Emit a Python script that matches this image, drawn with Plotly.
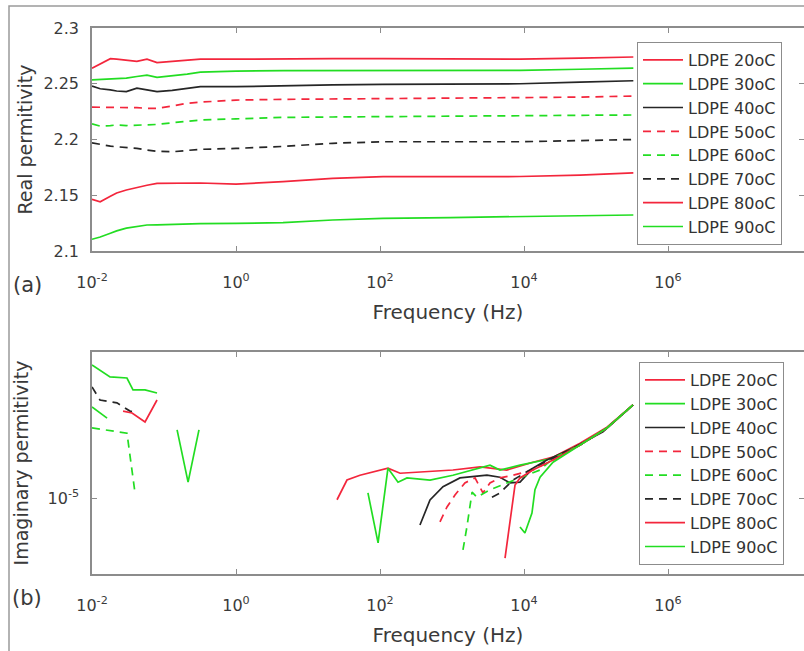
import plotly.graph_objects as go

# ---------------- data ----------------
labels = ["LDPE 20oC", "LDPE 30oC", "LDPE 40oC", "LDPE 50oC",
          "LDPE 60oC", "LDPE 70oC", "LDPE 80oC", "LDPE 90oC"]

# (a) real permittivity
freq_re = [0.01, 0.013, 0.018, 0.022, 0.03, 0.042, 0.058, 0.08, 0.13, 0.21,
           0.32, 1.0, 4.5, 22, 110, 940, 8800, 60000, 330000]
re_20 = [2.264, 2.268, 2.2725, 2.272, 2.271, 2.270, 2.272, 2.269, 2.270, 2.271,
         2.272, 2.272, 2.2725, 2.2725, 2.2725, 2.272, 2.272, 2.273, 2.274]
re_30 = [2.2534, 2.2537, 2.254, 2.2545, 2.255, 2.2565, 2.2578, 2.2558, 2.257, 2.2587,
         2.2605, 2.2614, 2.2617, 2.2617, 2.2617, 2.2617, 2.262, 2.263, 2.264]
re_40 = [2.248, 2.2455, 2.2445, 2.2435, 2.243, 2.246, 2.2445, 2.243, 2.244, 2.2455,
         2.2474, 2.2474, 2.2485, 2.249, 2.2495, 2.250, 2.250, 2.2515, 2.2527]
re_50 = [2.229, 2.229, 2.2285, 2.229, 2.2285, 2.2285, 2.228, 2.228, 2.230, 2.2325,
         2.2335, 2.2354, 2.236, 2.2363, 2.2365, 2.2368, 2.237, 2.238, 2.239]
re_60 = [2.214, 2.212, 2.2125, 2.213, 2.2125, 2.213, 2.213, 2.2135, 2.215, 2.2165,
         2.2175, 2.2185, 2.2198, 2.2202, 2.2205, 2.2205, 2.221, 2.2215, 2.222]
re_70 = [2.197, 2.1955, 2.194, 2.1935, 2.193, 2.192, 2.1905, 2.1895, 2.189, 2.1905,
         2.1912, 2.192, 2.1938, 2.1966, 2.198, 2.198, 2.198, 2.199, 2.200]
re_80 = [2.1464, 2.1442, 2.149, 2.152, 2.1547, 2.157, 2.159, 2.1607, 2.161, 2.1613,
         2.161, 2.160, 2.1622, 2.1652, 2.1667, 2.1667, 2.1668, 2.168, 2.170]
re_90 = [2.1105, 2.1125, 2.1159, 2.118, 2.1205, 2.122, 2.1233, 2.1235, 2.124, 2.1242,
         2.1245, 2.1248, 2.1254, 2.1278, 2.1293, 2.130, 2.131, 2.1315, 2.1323]

# (b) imaginary permittivity (None = gap, value not shown on log axis)
f_im_20 = [25.3, 34.8, 52.7, 129, 190, 359, 1030, 2460, 5760, 13300, 25300, 60000, 142000, 327000]
im_20 = [9.8e-6, 1.23e-5, 1.30e-5, 1.41e-5, 1.33e-5, 1.35e-5, 1.38e-5, 1.43e-5, 1.38e-5,
         1.51e-5, 1.60e-5, 1.88e-5, 2.26e-5, 2.92e-5]
f_im_30 = [0.01, 0.0162, None, 0.152, 0.216, 0.306, None, 68, 94, 129, 178, 237, 495, 1030,
           3370, 4640, 8800, 25300, 60000, 142000, 327000]
im_30 = [2.85e-5, 2.51e-5, None, 2.19e-5, 1.20e-5, 2.19e-5, None, 1.06e-5, 5.96e-6, 1.41e-5,
         1.20e-5, 1.26e-5, 1.23e-5, 1.30e-5, 1.46e-5, 1.38e-5, 1.46e-5, 1.58e-5, 1.84e-5,
         2.24e-5, 2.92e-5]
f_im_40 = [359, 495, 750, 1290, 3060, 4640, 6400, 8800, 13300, 20800, 48000, 125000, 327000]
im_40 = [7.33e-6, 9.77e-6, 1.14e-5, 1.26e-5, 1.30e-5, 1.27e-5, 1.19e-5, 1.20e-5, 1.41e-5,
         1.55e-5, 1.78e-5, 2.14e-5, 2.92e-5]
f_im_50 = [681, 852, 1100, 1510, 2090, 2690, 3370, 4640, 7030, 13300, 25300, 60000, 142000, 327000]
im_50 = [7.59e-6, 9.02e-6, 1.035e-5, 1.19e-5, 1.26e-5, 1.06e-5, 1.19e-5, 1.26e-5, 1.30e-5,
         1.38e-5, 1.55e-5, 1.84e-5, 2.24e-5, 2.92e-5]
f_im_60 = [0.01, 0.0151, 0.0306, 0.0396, None, 1420, 1610, 1900, 2220, 3370, 8800, 16700,
           25300, 60000, 142000, 327000]
im_60 = [2.24e-5, 2.19e-5, 2.11e-5, 1.06e-5, None, 5.50e-6, 7.16e-6, 1.07e-5, 1.01e-5,
         1.10e-5, 1.26e-5, 1.38e-5, 1.58e-5, 1.84e-5, 2.24e-5, 2.92e-5]
f_im_70 = [0.01, 0.0129, 0.0222, 0.0337, 0.0396, None, 3590, 4640, 7030, 13300, 25300,
           60000, 142000, 327000]
im_70 = [3.59e-5, 3.09e-5, 2.99e-5, 2.72e-5, 2.69e-5, None, 1.01e-5, 1.06e-5, 1.23e-5,
         1.41e-5, 1.58e-5, 1.84e-5, 2.24e-5, 2.92e-5]
f_im_80 = [0.027, 0.036, 0.0545, 0.08, None, 5450, 7500, 8800, 13300, 25300, 60000, 142000, 327000]
im_80 = [2.72e-5, 2.66e-5, 2.40e-5, 3.09e-5, None, 5.01e-6, 1.16e-5, 1.26e-5, 1.38e-5,
         1.55e-5, 1.84e-5, 2.24e-5, 2.92e-5]
f_im_90 = [0.01, 0.0178, 0.0306, 0.0371, 0.0545, 0.08, None, 8800, 10300, 12900, 14200,
           16700, 25300, 60000, 142000, 327000]
im_90 = [4.62e-5, 4.03e-5, 3.98e-5, 3.47e-5, 3.47e-5, 3.35e-5, None, 7.16e-6, 6.68e-6,
         8.41e-6, 1.10e-5, 1.27e-5, 1.51e-5, 1.84e-5, 2.24e-5, 2.92e-5]

x_tickvals = [1e-2, 1e0, 1e2, 1e4, 1e6, 1e8]
x_ticktext = ["10<sup>-2</sup>", "10<sup>0</sup>", "10<sup>2</sup>", "10<sup>4</sup>",
              "10<sup>6</sup>", "10<sup>8</sup>"]
y1_tickvals = [2.1, 2.15, 2.2, 2.25, 2.3]
y1_ticktext = ["2.1", "2.15", "2.2", "2.25", "2.3"]
y2_tickvals = [1e-5]
y2_ticktext = ["10<sup>-5</sup>"]

# ---------------- styles ----------------
RED, GREEN, BLACK = "#f3263c", "#22dd22", "#262626"
colors = [RED, GREEN, BLACK, RED, GREEN, BLACK, RED, GREEN]
dashes = ["solid", "solid", "solid", "8px,6px", "8px,6px", "8px,6px", "solid", "solid"]
FONT = "DejaVu Sans, Verdana, sans-serif"
TXT = "#3a3a3a"

re_series = [re_20, re_30, re_40, re_50, re_60, re_70, re_80, re_90]
im_f = [f_im_20, f_im_30, f_im_40, f_im_50, f_im_60, f_im_70, f_im_80, f_im_90]
im_v = [im_20, im_30, im_40, im_50, im_60, im_70, im_80, im_90]

fig = go.Figure()
for i, lab in enumerate(labels):
    fig.add_trace(go.Scatter(
        x=freq_re, y=re_series[i], mode="lines", name=lab,
        line=dict(color=colors[i], width=1.7, dash=dashes[i]),
        xaxis="x", yaxis="y", legend="legend"))
for i, lab in enumerate(labels):
    fig.add_trace(go.Scatter(
        x=im_f[i], y=im_v[i], mode="lines", name=lab,
        line=dict(color=colors[i], width=1.7, dash=dashes[i]),
        connectgaps=False,
        xaxis="x2", yaxis="y2", legend="legend2"))

W, H = 804, 651
L, R, T, B = 92, 0, 28, 77
pw, ph = W - L - R, H - T - B
def px(xp): return (xp - L) / pw
def py(yp): return (H - B - yp) / ph

xr = [-2, -2 + pw / 72.0]
axis_common = dict(showline=True, mirror="ticks", linecolor="#8c8c8c", linewidth=1.5,
                   ticks="inside", ticklen=5, tickcolor="#8c8c8c", showgrid=False,
                   zeroline=False, automargin=False,
                   tickfont=dict(family=FONT, size=16, color=TXT))
xtitle = dict(text="Frequency (Hz)", font=dict(family=FONT, size=20, color=TXT), standoff=14)

leg_common = dict(xanchor="left", yanchor="top", bgcolor="white",
                  bordercolor="#8c8c8c", borderwidth=1,
                  font=dict(family=FONT, size=16, color="#333333"),
                  itemwidth=40, entrywidth=120)

fig.update_layout(
    width=W, height=H, autosize=False,
    margin=dict(l=L, r=R, t=T, b=B, pad=0, autoexpand=False),
    paper_bgcolor="white", plot_bgcolor="white",
    font=dict(family=FONT, color=TXT),
    xaxis=dict(type="log", range=xr, domain=[0, 1], anchor="y",
               tickvals=x_tickvals, ticktext=x_ticktext, ticklabelstandoff=16,
               title=xtitle, **axis_common),
    yaxis=dict(range=[2.1, 2.3], domain=[py(251), 1], anchor="x",
               tickvals=y1_tickvals, ticktext=y1_ticktext, ticklabelstandoff=8,
               title=dict(text="Real permitivity", font=dict(family=FONT, size=19, color=TXT),
                          standoff=6),
               **axis_common),
    xaxis2=dict(type="log", range=xr, domain=[0, 1], anchor="y2",
                tickvals=x_tickvals, ticktext=x_ticktext, ticklabelstandoff=16,
                title=xtitle, **axis_common),
    yaxis2=dict(type="log", range=[-5.38, -4.27], domain=[0, py(352)], anchor="x2",
                tickvals=y2_tickvals, ticktext=y2_ticktext, ticklabelstandoff=8,
                title=dict(text="Imaginary permitivity", font=dict(family=FONT, size=19, color=TXT),
                           standoff=14),
                **axis_common),
    legend=dict(x=px(637), y=py(42), **leg_common),
    legend2=dict(x=px(639), y=py(362), **leg_common),
    annotations=[
        dict(text="(a)", x=px(27), y=py(285), xref="paper", yref="paper",
             xanchor="center", yanchor="middle",
             showarrow=False, font=dict(family=FONT, size=21, color=TXT)),
        dict(text="(b)", x=px(27), y=py(598), xref="paper", yref="paper",
             xanchor="center", yanchor="middle",
             showarrow=False, font=dict(family=FONT, size=21, color=TXT)),
    ],
    shapes=[
        dict(type="rect", xref="paper", yref="paper", x0=px(9), x1=px(830),
             y0=py(680), y1=py(6), line=dict(color="#9a9a9a", width=1.5),
             fillcolor="rgba(0,0,0,0)", layer="below"),
    ],
)

fig.write_html("out.html", config={"displayModeBar": False},
               post_script="document.body.style.margin='0';document.body.style.overflow='hidden';")
